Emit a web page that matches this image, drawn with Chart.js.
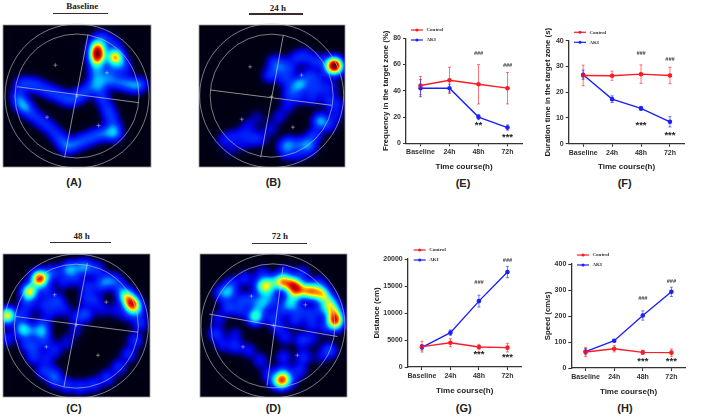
<!DOCTYPE html>
<html>
<head>
<meta charset="utf-8">
<title>Open field results</title>
<script src="https://cdn.jsdelivr.net/npm/chart.js@4"></script>
<style>
html, body { margin: 0; background: #fff; }
body { width: 709px; height: 417px; position: relative; overflow: hidden; filter: blur(0.3px); }
canvas { position: absolute; }
.txt { position: absolute; transform: translate(-50%, -50%); white-space: nowrap; color: #222; }
.cap { font: bold 11px "Liberation Sans", Arial, sans-serif; }
.ttl { font: bold 9px "Liberation Serif", "Times New Roman", serif; }
.bar { position: absolute; height: 1.5px; background: #3a2c2c; }
</style>
</head>
<body>
<script>
const timeCourse = ["Baseline", "24h", "48h", "72h"];

const freqControl = [44, 48, 45, 42];
const freqControlErr = [7, 10, 15, 12];
const freqAki = [42, 42, 20, 12];
const freqAkiErr = [6.5, 3, 2, 2];
const freqHash = [null, null, 68.5, 59];
const freqStar = [null, null, 15, 5.5];
const freqStarText = ["", "", "**", "***"];

const durControl = [26.5, 26.4, 27, 26.5];
const durControlErr = [4, 1.8, 3.6, 3.2];
const durAki = [26.8, 17.3, 13.7, 8.5];
const durAkiErr = [1.8, 1.3, 0.8, 2];
const durHash = [null, null, 35.2, 32.6];
const durStar = [null, null, 7.6, 4];
const durStarText = ["", "", "***", "***"];

const distControl = [3765, 4500, 3700, 3580];
const distControlErr = [1000, 750, 500, 800];
const distAki = [3640, 6360, 12200, 17590];
const distAkiErr = [500, 500, 1100, 1050];
const distHash = [null, null, 15680, 19750];
const distStar = [null, null, 2530, 2100];
const distStarText = ["", "", "***", "***"];

const speedControl = [61.5, 74, 60, 59];
const speedControlErr = [18, 12, 8, 14];
const speedAki = [63, 105, 202, 293];
const speedAkiErr = [12, 4, 18, 18];
const speedHash = [null, null, 268, 334];
const speedStar = [null, null, 31, 31];
const speedStarText = ["", "", "***", "***"];

// tracking density samples: [x, y, weight]
const heatA = [
  [60,250,1.3],[85,250,1.3],[110,255,1.3],[135,268,1.3],[160,278,1.3],[185,290,1.4],[210,298,1.5],[235,287,1.5],[258,270,1.4],
  [280,250,1.5],[305,240,1.5],[330,240,1.5],[355,245,1.5],[380,250,1.8],[405,255,2],[422,252,1],
  [50,285,1.3],[58,305,1.6],[72,320,2.2],[92,340,1.3],[115,358,1.2],[138,375,1.2],[160,395,1.2],[180,418,1.6],[198,440,1.8],
  [222,432,1.5],[245,422,1.5],[270,412,1.5],[295,402,1.5],[320,398,1.6],[342,400,2.2],[340,378,1.3],[330,350,1.4],[320,325,1.4],[305,295,1.4],[295,265,1.4],
  [285,225,1.3],[285,205,1.4],[288,180,4],[290,160,7],[290,140,4.5],[283,125,.8],[300,108,1.1],[322,122,1.1],[345,135,.9],
  [343,170,6.4],[330,165,.4],[360,180,.8],[372,200,1.3],[345,205,1],[320,212,1.2]
];
const heatB = [
  [448,195,11],[430,180,.4],[465,210,.4],[428,215,.9],
  [265,185,1.3],[252,225,1.4],[275,210,1.2],[290,190,1.2],[312,205,1.3],[332,172,1.2],[358,165,1.2],[385,180,1.2],[410,185,1],
  [300,235,1.4],[322,262,1.4],[345,250,2.8],[370,225,1.4],[395,235,1.1],[380,265,1.2],[410,265,1.1],[440,262,.9],
  [310,285,1.2],[340,292,1.1],[380,295,1.1],[430,300,1.2],[455,312,1.1],[450,345,1],[432,375,1.1],
  [405,362,3],[388,405,1.5],[368,430,2],[340,432,1.4],[310,430,1.8],[295,440,1.2],[305,460,1],[338,462,1],[372,448,1],
  [305,320,.9],[280,350,.9],[255,385,.9],[225,415,1],[200,415,1.2],[172,400,1],[140,410,1.1],[112,420,.9],[135,450,.6],[190,375,.8],[215,350,.6],[170,432,.7]
];
const heatC = [
  [118,205,8.6],[100,225,.6],[88,245,6],[78,275,1.3],[70,310,1.3],[62,345,1.1],[78,400,1.3],[100,440,1.4],[130,482,1.5],[165,510,1.5],[200,525,1.5],[240,530,1.5],
  [280,522,1.5],[320,502,1.6],[355,470,1.5],[385,432,1.5],[405,390,1.5],[420,340,1.5],[412,305,1.2],[405,295,1.8],[395,280,7.6],[378,258,4.6],[362,235,1.3],[345,212,1.5],[320,212,2],
  [290,178,1.6],[255,170,2.5],[230,172,1.3],[205,178,2.7],[160,185,1.5],[140,195,.9],
  [140,240,1.3],[170,272,1.7],[190,215,1.1],[135,280,1.2],[105,290,.5],[225,205,1.2],[262,230,1.4],[258,265,1.2],[255,312,2],[228,322,1],[190,298,1.1],[150,305,1.1],[128,340,1.3],
  [125,365,2.7],[135,395,1.2],[165,418,1.2],[200,395,.9],[225,360,.8],[300,225,1.4],[285,270,1.2],[305,298,.9],[345,300,.9],[380,315,.9],
  [70,360,3.2],[98,362,1.3],[22,315,6.2],[20,385,1.3],[100,410,1.4],[140,445,1.1],[160,490,1.4],[8,335,.5]
];
const heatD = [
  [232,228,4.4],[255,218,3],[290,215,6.2],[320,222,6],[336,236,5],[355,240,2.3],[375,243,5.2],[395,245,2.5],[412,252,4.6],[432,275,3.4],[443,298,4.2],[450,325,6.8],[450,342,3.2],
  [130,245,2.6],[108,250,1.6],[250,245,2],[235,275,2.6],[210,320,4.4],[315,280,3],[325,255,2.3],[290,510,7],[295,488,2],
  [140,220,1.3],[180,205,1.3],[230,190,1.1],[300,185,1.1],[350,190,1.4],[400,218,1.2],[170,270,1.5],[200,268,1.5],[130,290,1.8],[165,300,1.3],[220,295,1.5],
  [100,325,1],[92,370,1.6],[112,402,1.1],[150,408,1.4],[190,420,1.1],[225,450,1.1],[250,490,1.2],[270,515,1.3],[315,510,1.3],[342,480,1.4],[355,440,1.5],[350,390,1.5],
  [300,380,1.2],[295,440,1.3],[278,350,1.3],[330,330,1.4],[380,340,1.3],[420,350,1.1],[432,420,2],[405,440,.7],[380,385,.9],[150,372,.9],
  [265,270,1.1],[290,300,1.3],[340,300,1.3],[372,310,1.3],[405,300,1.2],[262,322,1.4],[420,290,.9]
];

// white overlay drawn on each arena, in the same units as the samples
const crossA = [[165,195],[320,218],[140,352],[295,377],[230,288]];
const crossB = [[195,200],[350,225],[170,358],[324,382],[259,290]];
const crossC = [[165,255],[320,277],[140,411],[295,436],[230,345]];
const crossD = [[200,259],[362,285],[175,411],[338,436],[266,347]];
const axisLinesA = [[[50,260],[415,308]], [[263,103],[193,473]]];
const axisLinesB = [[[75,270],[441,316]], [[295,105],[227,473]]];
const axisLinesC = [[[48,320],[415,367]], [[263,160],[193,530]]];
const axisLinesD = [[[74,313],[458,380]], [[295,172],[247,527]]];
const arenaCentreA = [[230,288]];
const arenaCentreB = [[260,287]];
const arenaCentreC = [[230,349]];
const arenaCentreD = [[265,348]];

const redLine = "#fb1c24";
const blueLine = "#1a22f5";
const axisColor = "#333333";

function addText(cls, text, x, y) {
    const el = document.createElement("div");
    el.className = "txt " + cls;
    el.textContent = text;
    el.style.left = x + "px";
    el.style.top = y + "px";
    document.body.appendChild(el);
}

function addBar(x1, x2, y) {
    const el = document.createElement("div");
    el.className = "bar";
    el.style.left = x1 + "px";
    el.style.width = (x2 - x1) + "px";
    el.style.top = y + "px";
    document.body.appendChild(el);
}

function addCanvas(x, y, w, h) {
    const canvas = document.createElement("canvas");
    canvas.width = w;
    canvas.height = h;
    canvas.style.left = x + "px";
    canvas.style.top = y + "px";
    canvas.style.width = w + "px";
    canvas.style.height = h + "px";
    document.body.appendChild(canvas);
    return canvas;
}

const errorBars = {
    id: "errorBars",
    afterDatasetsDraw(chart) {
        const ctx = chart.ctx;
        const yScale = chart.scales.y;
        chart.data.datasets.forEach((ds, i) => {
            const meta = chart.getDatasetMeta(i);
            ctx.save();
            ctx.strokeStyle = ds.borderColor;
            ctx.globalAlpha = 0.75;
            ctx.lineWidth = 0.8;
            ds.errors.forEach((err, j) => {
                const x = meta.data[j].x;
                const top = yScale.getPixelForValue(ds.data[j] + err);
                const bot = yScale.getPixelForValue(ds.data[j] - err);
                ctx.beginPath();
                ctx.moveTo(x, top);
                ctx.lineTo(x, bot);
                ctx.moveTo(x - 1.5, top);
                ctx.lineTo(x + 1.5, top);
                ctx.moveTo(x - 1.5, bot);
                ctx.lineTo(x + 1.5, bot);
                ctx.stroke();
            });
            ctx.restore();
        });
    }
};

const sigMarks = {
    id: "sigMarks",
    afterDraw(chart, args, opts) {
        const ctx = chart.ctx;
        const meta = chart.getDatasetMeta(0);
        const yScale = chart.scales.y;
        ctx.save();
        ctx.textAlign = "center";
        ctx.textBaseline = "middle";
        ctx.fillStyle = "#3c3c3c";
        ctx.font = "italic bold 5.5px 'Liberation Sans'";
        opts.hash.forEach((v, i) => {
            if (v !== null) ctx.fillText("###", meta.data[i].x, yScale.getPixelForValue(v));
        });
        ctx.fillStyle = "#222";
        ctx.font = "bold 9.5px 'Liberation Sans'";
        opts.star.forEach((v, i) => {
            if (v !== null) ctx.fillText(opts.starText[i], meta.data[i].x, yScale.getPixelForValue(v) + 1.5);
        });
        ctx.restore();
    }
};

const tinyLegend = {
    id: "tinyLegend",
    afterDraw(chart, args, opts) {
        const ctx = chart.ctx;
        ctx.save();
        ctx.font = "bold 5px 'Liberation Serif'";
        ctx.textBaseline = "middle";
        chart.data.datasets.forEach((ds, i) => {
            const y = opts.y + i * opts.gap;
            ctx.strokeStyle = ds.borderColor;
            ctx.fillStyle = ds.borderColor;
            ctx.lineWidth = 1.2;
            ctx.beginPath();
            ctx.moveTo(opts.x, y);
            ctx.lineTo(opts.x + 12, y);
            ctx.stroke();
            ctx.beginPath();
            ctx.arc(opts.x + 6, y, 1.5, 0, Math.PI * 2);
            ctx.fill();
            ctx.fillStyle = "#333";
            ctx.fillText(ds.label, opts.x + 15.5, y);
        });
        ctx.restore();
    }
};

function lineChart(p) {
    const canvas = addCanvas(p.x, p.y, p.w, p.h);
    return new Chart(canvas, {
        type: "line",
        data: {
            labels: timeCourse,
            datasets: [
                { label: "Control", data: p.control, errors: p.controlErr, borderColor: redLine, backgroundColor: redLine, borderWidth: 1.4, pointRadius: 1.6, tension: 0 },
                { label: "AKI", data: p.aki, errors: p.akiErr, borderColor: blueLine, backgroundColor: blueLine, borderWidth: 1.4, pointRadius: 1.6, tension: 0 }
            ]
        },
        options: {
            responsive: false,
            animation: false,
            layout: { autoPadding: false, padding: { top: p.plotTop - p.y, right: p.x + p.w - p.plotRight, left: 0, bottom: 0 } },
            plugins: {
                legend: { display: false },
                tooltip: { enabled: false },
                sigMarks: { hash: p.hash, star: p.star, starText: p.starText },
                tinyLegend: { x: p.legendX - p.x, y: p.legendY - p.y, gap: 10 }
            },
            scales: {
                x: {
                    offset: true,
                    afterFit: (scale) => { scale.height = p.y + p.h - p.plotBottom; },
                    border: { color: axisColor, width: 1.3 },
                    grid: { drawOnChartArea: false, tickLength: 3, tickColor: axisColor, tickWidth: 1.1 },
                    ticks: { color: "#333", padding: 2, maxRotation: 0, autoSkip: false, font: { family: "Liberation Sans", size: 7, weight: "bold" } },
                    title: { display: true, text: "Time course(h)", color: "#222", padding: { top: 0, bottom: p.y + p.h - p.xTitleY - 4.8 }, font: { family: "Liberation Sans", size: 8, weight: "bold" } }
                },
                y: {
                    min: 0,
                    max: p.max,
                    afterFit: (scale) => { scale.width = p.plotLeft - p.x; },
                    border: { color: axisColor, width: 1.3 },
                    grid: { drawOnChartArea: false, tickLength: 3, tickColor: axisColor, tickWidth: 1.1 },
                    ticks: { color: "#333", padding: 2, stepSize: p.step, format: { useGrouping: false }, font: { family: "Liberation Sans", size: 7, weight: "bold" } },
                    title: { display: true, text: p.yTitle, color: "#222", padding: { top: p.yTitleX - p.x - 4.8, bottom: 0 }, font: { family: "Liberation Sans", size: 7.8, weight: "bold" } }
                }
            }
        },
        plugins: [errorBars, sigMarks, tinyLegend]
    });
}

function jet(v) {
    const stops = [
        [0, 0, 0, 18], [0.05, 0, 0, 40], [0.17, 0, 0, 235], [0.3, 0, 60, 255], [0.42, 0, 190, 255], [0.5, 0, 255, 240],
        [0.6, 140, 255, 110], [0.68, 255, 255, 0], [0.78, 255, 120, 0], [0.88, 240, 10, 0], [1, 120, 0, 0]
    ];
    const t = Math.min(v, 1);
    for (let i = 1; i < stops.length; i++) {
        if (t <= stops[i][0]) {
            const a = stops[i - 1];
            const b = stops[i];
            const f = (t - a[0]) / (b[0] - a[0]);
            return [a[1] + (b[1] - a[1]) * f, a[2] + (b[2] - a[2]) * f, a[3] + (b[3] - a[3]) * f];
        }
    }
    return [120, 0, 0];
}

const heatLayer = {
    id: "heatLayer",
    beforeDatasetsDraw(chart) {
        const area = chart.chartArea;
        const pts = chart.getDatasetMeta(0).data;
        const weights = chart.data.datasets[0].data;
        const sigma = 5.4;
        const x0 = Math.round(area.left);
        const y0 = Math.round(area.top);
        const w = Math.round(area.right - area.left);
        const h = Math.round(area.bottom - area.top);
        const img = chart.ctx.createImageData(w, h);
        for (let py = 0; py < h; py++) {
            for (let px = 0; px < w; px++) {
                let sum = 0;
                for (let k = 0; k < pts.length; k++) {
                    const dx = x0 + px - pts[k].x;
                    const dy = y0 + py - pts[k].y;
                    sum += weights[k].w * Math.exp(-(dx * dx + dy * dy) / (2 * sigma * sigma));
                }
                const c = jet(Math.pow(sum / 11, 0.75));
                const n = (py * w + px) * 4;
                img.data[n] = c[0];
                img.data[n + 1] = c[1];
                img.data[n + 2] = c[2];
                img.data[n + 3] = 255;
            }
        }
        chart.ctx.putImageData(img, x0, y0);
        chart.ctx.save();
        chart.ctx.strokeStyle = "#9a9a9a";
        chart.ctx.lineWidth = 0.8;
        chart.ctx.strokeRect(x0, y0, w, h);
        chart.ctx.restore();
    }
};

function toPoints(list) {
    return list.map((p) => ({ x: p[0], y: p[1], w: p[2] }));
}

function arenaChart(p) {
    const pad = 3;
    const canvas = addCanvas(p.left - pad, p.top - pad, p.right - p.left + pad * 2, p.bottom - p.top + pad * 2);
    const overlay = "rgba(205, 205, 205, 0.85)";
    const datasets = [
        { data: toPoints(p.heat), pointRadius: 0, showLine: false },
        { data: toPoints(p.centre), pointRadius: p.outerR, pointStyle: "circle", backgroundColor: "transparent", borderColor: overlay, borderWidth: 0.7, showLine: false, clip: false },
        { data: toPoints(p.centre), pointRadius: p.innerR, pointStyle: "circle", backgroundColor: "transparent", borderColor: overlay, borderWidth: 0.7, showLine: false, clip: false },
        { data: toPoints(p.cross), pointRadius: 2, pointStyle: "cross", borderColor: overlay, borderWidth: 0.6, showLine: false }
    ];
    p.lines.forEach((line) => {
        datasets.push({ data: toPoints(line), pointRadius: 0, borderColor: overlay, borderWidth: 0.8, showLine: true });
    });
    return new Chart(canvas, {
        type: "scatter",
        data: { datasets: datasets },
        options: {
            responsive: false,
            animation: false,
            layout: { autoPadding: false, padding: pad },
            plugins: { legend: { display: false }, tooltip: { enabled: false } },
            scales: {
                x: { display: false, min: p.xMin, max: p.xMax },
                y: { display: false, min: p.yMin, max: p.yMax, reverse: true }
            }
        },
        plugins: [heatLayer]
    });
}

// heat map panels: axis ranges are the sample units of each arena
arenaChart({ left: 3, top: 25, right: 151, bottom: 167, xMin: 8, xMax: 452, yMin: 74, yMax: 502, heat: heatA, cross: crossA, lines: axisLinesA, centre: arenaCentreA, outerR: 72, innerR: 62 });
arenaChart({ left: 199, top: 25, right: 345, bottom: 167, xMin: 41, xMax: 481, yMin: 74, yMax: 502, heat: heatB, cross: crossB, lines: axisLinesB, centre: arenaCentreB, outerR: 72, innerR: 61.5 });
arenaChart({ left: 3, top: 254, right: 150, bottom: 397, xMin: 10, xMax: 451, yMin: 133, yMax: 561, heat: heatC, cross: crossC, lines: axisLinesC, centre: arenaCentreC, outerR: 72, innerR: 62 });
arenaChart({ left: 200, top: 254, right: 347, bottom: 397, xMin: 46, xMax: 487, yMin: 133, yMax: 561, heat: heatD, cross: crossD, lines: axisLinesD, centre: arenaCentreD, outerR: 72, innerR: 62 });

lineChart({
    x: 370, y: 20, w: 165, h: 155, plotLeft: 406, plotRight: 522, plotTop: 38.3, plotBottom: 143.3, xTitleY: 167, yTitleX: 385.7,
    yTitle: "Frequency in the target zone (%)", max: 80, step: 20, control: freqControl, controlErr: freqControlErr, aki: freqAki, akiErr: freqAkiErr,
    hash: freqHash, star: freqStar, starText: freqStarText, legendX: 411, legendY: 30
});
lineChart({
    x: 540, y: 20, w: 165, h: 155, plotLeft: 568.7, plotRight: 684.4, plotTop: 40.7, plotBottom: 143.7, xTitleY: 167, yTitleX: 548,
    yTitle: "Duration time in the target zone (s)", max: 40, step: 10, control: durControl, controlErr: durControlErr, aki: durAki, akiErr: durAkiErr,
    hash: durHash, star: durStar, starText: durStarText, legendX: 574, legendY: 32.3
});
lineChart({
    x: 370, y: 235, w: 165, h: 165, plotLeft: 407.7, plotRight: 521.7, plotTop: 259, plotBottom: 367, xTitleY: 391, yTitleX: 377,
    yTitle: "Distance (cm)", max: 20000, step: 5000, control: distControl, controlErr: distControlErr, aki: distAki, akiErr: distAkiErr,
    hash: distHash, star: distStar, starText: distStarText, legendX: 413.7, legendY: 250
});
lineChart({
    x: 540, y: 235, w: 165, h: 165, plotLeft: 571.3, plotRight: 685.7, plotTop: 264, plotBottom: 368, xTitleY: 392, yTitleX: 548,
    yTitle: "Speed (cm/s)", max: 400, step: 100, control: speedControl, controlErr: speedControlErr, aki: speedAki, akiErr: speedAkiErr,
    hash: speedHash, star: speedStar, starText: speedStarText, legendX: 577, legendY: 255
});

addText("ttl", "Baseline", 82.3, 5.7);
addBar(53, 108, 12.6);
addText("ttl", "24 h", 278, 8);
addBar(249.3, 303, 13.3);
addText("ttl", "48 h", 81.7, 236);
addBar(49.7, 111, 241.6);
addText("ttl", "72 h", 280, 236);
addBar(252, 307.3, 242.6);

addText("cap", "(A)", 74, 182.3);
addText("cap", "(B)", 273.3, 182.3);
addText("cap", "(C)", 74, 407.7);
addText("cap", "(D)", 273.3, 408);
addText("cap", "(E)", 463, 182.7);
addText("cap", "(F)", 624.7, 183);
addText("cap", "(G)", 463.7, 408);
addText("cap", "(H)", 625, 408);
</script>
</body>
</html>
